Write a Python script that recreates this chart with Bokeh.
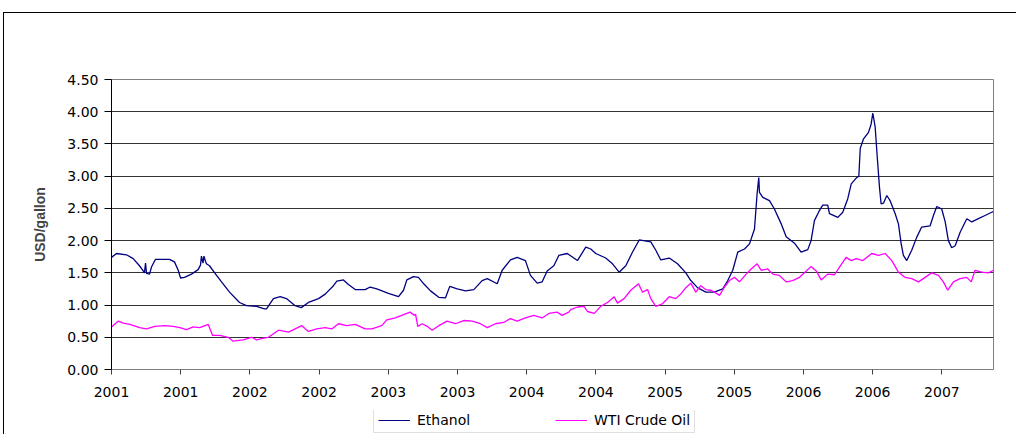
from bokeh.plotting import figure
from bokeh.layouts import column
from bokeh.models import (FixedTicker, CustomJSTickFormatter, NumeralTickFormatter,
                          Legend, LegendItem, Range1d)
from bokeh.embed import file_html
from bokeh.resources import INLINE

# ---------------- data (fractional years, USD/gallon) ----------------
eth_t = [2001.00, 2001.036, 2001.108, 2001.157, 2001.202, 2001.229, 2001.238, 2001.246,
         2001.253, 2001.275, 2001.289, 2001.318, 2001.419, 2001.455, 2001.482, 2001.499,
         2001.527, 2001.578, 2001.626, 2001.643, 2001.650, 2001.661, 2001.668, 2001.679,
         2001.686, 2001.708, 2001.759, 2001.795, 2001.853, 2001.925, 2001.975, 2002.048,
         2002.105, 2002.120, 2002.170, 2002.219, 2002.264, 2002.327, 2002.371, 2002.423,
         2002.496, 2002.544, 2002.604, 2002.628, 2002.676, 2002.712, 2002.761, 2002.833,
         2002.869, 2002.917, 2003.001, 2003.074, 2003.110, 2003.134, 2003.182, 2003.218,
         2003.256, 2003.305, 2003.365, 2003.413, 2003.444, 2003.498, 2003.558, 2003.618,
         2003.678, 2003.715, 2003.787, 2003.823, 2003.883, 2003.931, 2003.991, 2004.027,
         2004.076, 2004.112, 2004.148, 2004.196, 2004.232, 2004.293, 2004.367, 2004.427,
         2004.463, 2004.499, 2004.571, 2004.620, 2004.668, 2004.716, 2004.764, 2004.813,
         2004.897, 2004.933, 2004.969, 2005.030, 2005.090, 2005.150, 2005.186, 2005.234,
         2005.294, 2005.355, 2005.417, 2005.453, 2005.489, 2005.525, 2005.574, 2005.610,
         2005.646, 2005.665, 2005.677, 2005.682, 2005.706, 2005.754, 2005.790, 2005.839,
         2005.875, 2005.935, 2005.983, 2006.031, 2006.055, 2006.079, 2006.116, 2006.139,
         2006.175, 2006.188, 2006.248, 2006.284, 2006.320, 2006.345, 2006.381, 2006.400,
         2006.410, 2006.434, 2006.470, 2006.489, 2006.501, 2006.518, 2006.535, 2006.549,
         2006.561, 2006.578, 2006.602, 2006.626, 2006.662, 2006.686, 2006.706, 2006.722,
         2006.746, 2006.782, 2006.818, 2006.854, 2006.915, 2006.939, 2006.963, 2006.999,
         2007.024, 2007.047, 2007.071, 2007.096, 2007.132, 2007.180, 2007.216, 2007.264,
         2007.312, 2007.360, 2007.372]
eth_v = [1.74, 1.80, 1.78, 1.72, 1.61, 1.53, 1.50, 1.65,
         1.49, 1.48, 1.59, 1.71, 1.71, 1.67, 1.54, 1.42,
         1.43, 1.48, 1.55, 1.62, 1.76, 1.65, 1.76, 1.68,
         1.64, 1.61, 1.46, 1.36, 1.20, 1.04, 0.99, 0.98,
         0.94, 0.94, 1.10, 1.13, 1.10, 0.99, 0.96, 1.04,
         1.10, 1.17, 1.30, 1.37, 1.39, 1.32, 1.24, 1.24,
         1.28, 1.25, 1.18, 1.13, 1.23, 1.39, 1.44, 1.43,
         1.33, 1.22, 1.12, 1.11, 1.29, 1.25, 1.22, 1.24,
         1.38, 1.41, 1.33, 1.54, 1.70, 1.74, 1.69, 1.46,
         1.34, 1.36, 1.53, 1.61, 1.77, 1.80, 1.69, 1.90,
         1.87, 1.80, 1.73, 1.64, 1.51, 1.61, 1.82, 2.01,
         1.98, 1.85, 1.70, 1.73, 1.64, 1.50, 1.38, 1.27,
         1.20, 1.20, 1.25, 1.38, 1.54, 1.82, 1.87, 1.95,
         2.18, 2.73, 2.98, 2.75, 2.67, 2.62, 2.49, 2.26,
         2.06, 1.96, 1.82, 1.86, 2.00, 2.31, 2.47, 2.55,
         2.55, 2.42, 2.36, 2.44, 2.65, 2.88, 2.97, 3.00,
         3.43, 3.58, 3.68, 3.81, 3.98, 3.76, 3.24, 2.83,
         2.57, 2.58, 2.70, 2.62, 2.42, 2.26, 1.95, 1.77,
         1.69, 1.85, 2.05, 2.21, 2.23, 2.39, 2.53, 2.49,
         2.29, 2.00, 1.89, 1.92, 2.13, 2.34, 2.29, 2.34,
         2.39, 2.44, 2.45]

oil_t = [2001.00, 2001.048, 2001.085, 2001.132, 2001.204, 2001.253, 2001.313, 2001.385,
         2001.446, 2001.493, 2001.542, 2001.590, 2001.638, 2001.699, 2001.730, 2001.782,
         2001.843, 2001.879, 2001.952, 2002.012, 2002.048, 2002.108, 2002.134, 2002.207,
         2002.279, 2002.327, 2002.375, 2002.423, 2002.483, 2002.544, 2002.592, 2002.640,
         2002.700, 2002.761, 2002.833, 2002.881, 2002.953, 2002.989, 2003.050, 2003.097,
         2003.158, 2003.189, 2003.197, 2003.213, 2003.245, 2003.281, 2003.317, 2003.365,
         2003.425, 2003.485, 2003.545, 2003.606, 2003.666, 2003.715, 2003.774, 2003.834,
         2003.883, 2003.931, 2003.991, 2004.051, 2004.112, 2004.160, 2004.220, 2004.256,
         2004.304, 2004.318, 2004.367, 2004.415, 2004.439, 2004.488, 2004.535, 2004.584,
         2004.632, 2004.656, 2004.704, 2004.752, 2004.808, 2004.837, 2004.873, 2004.897,
         2004.933, 2004.981, 2005.030, 2005.077, 2005.113, 2005.150, 2005.186, 2005.222,
         2005.258, 2005.294, 2005.330, 2005.357, 2005.393, 2005.429, 2005.465, 2005.501,
         2005.537, 2005.586, 2005.622, 2005.665, 2005.694, 2005.742, 2005.778, 2005.826,
         2005.875, 2005.922, 2005.971, 2006.007, 2006.055, 2006.092, 2006.128, 2006.175,
         2006.224, 2006.260, 2006.308, 2006.345, 2006.381, 2006.429, 2006.493, 2006.542,
         2006.590, 2006.638, 2006.686, 2006.734, 2006.782, 2006.831, 2006.879, 2006.927,
         2006.975, 2007.011, 2007.042, 2007.084, 2007.132, 2007.180, 2007.212, 2007.240,
         2007.288, 2007.336, 2007.372]
oil_v = [0.66, 0.75, 0.72, 0.70, 0.65, 0.63, 0.67, 0.68,
         0.67, 0.65, 0.62, 0.66, 0.65, 0.70, 0.53, 0.53,
         0.50, 0.44, 0.46, 0.50, 0.46, 0.49, 0.50, 0.61,
         0.58, 0.63, 0.68, 0.59, 0.63, 0.65, 0.63, 0.71,
         0.68, 0.70, 0.63, 0.63, 0.68, 0.77, 0.80, 0.84,
         0.89, 0.84, 0.86, 0.67, 0.71, 0.67, 0.61, 0.68,
         0.75, 0.71, 0.76, 0.75, 0.71, 0.65, 0.71, 0.73,
         0.79, 0.75, 0.80, 0.84, 0.80, 0.87, 0.89, 0.84,
         0.89, 0.93, 0.97, 0.98, 0.90, 0.87, 0.98, 1.04,
         1.13, 1.03, 1.10, 1.23, 1.33, 1.20, 1.24, 1.10,
         0.98, 1.02, 1.13, 1.10, 1.17, 1.27, 1.34, 1.20,
         1.30, 1.24, 1.23, 1.20, 1.15, 1.28, 1.38, 1.43,
         1.36, 1.48, 1.56, 1.64, 1.54, 1.56, 1.48, 1.46,
         1.36, 1.38, 1.43, 1.50, 1.60, 1.53, 1.39, 1.48,
         1.47, 1.59, 1.74, 1.69, 1.72, 1.69, 1.80, 1.77,
         1.80, 1.69, 1.51, 1.43, 1.41, 1.36, 1.43, 1.50,
         1.46, 1.36, 1.23, 1.36, 1.41, 1.43, 1.36, 1.54,
         1.51, 1.50, 1.54]

x_ticks = [2001.0, 2001.5, 2002.0, 2002.5, 2003.0, 2003.5, 2004.0, 2004.5,
           2005.0, 2005.5, 2006.0, 2006.5, 2007.0]
y_ticks = [0.0, 0.5, 1.0, 1.5, 2.0, 2.5, 3.0, 3.5, 4.0, 4.5]
series_names = ["Ethanol", "WTI Crude Oil"]
series_colors = ["#000080", "#FF00FF"]
x_start, x_end = 2001.0, 2007.373
y_start, y_end = 0.0, 4.5

FONT = "DejaVu Sans"
FSIZE = "14px"

# ---------------- main chart ----------------
p = figure(width=1012, height=397, output_backend="svg", toolbar_location=None,
           x_range=Range1d(x_start, x_end), y_range=Range1d(y_start, y_end),
           min_border_left=107, min_border_right=23, min_border_top=66,
           min_border_bottom=41)
p.background_fill_color = "white"
p.border_fill_color = "white"
p.outline_line_color = "#808080"
p.outline_line_width = 1

p.line(eth_t, eth_v, line_color=series_colors[0], line_width=1.3)
p.line(oil_t, oil_v, line_color=series_colors[1], line_width=1.3)

p.xaxis.ticker = FixedTicker(ticks=x_ticks)
p.xaxis.formatter = CustomJSTickFormatter(code="return Math.floor(tick + 1e-6).toFixed(0);")
p.xaxis.axis_line_color = "#808080"
p.xaxis.major_tick_line_color = "#404040"
p.xaxis.major_tick_out = 5
p.xaxis.major_tick_in = 0
p.xaxis.minor_tick_line_color = None
p.xaxis.major_label_standoff = 12
p.xaxis.major_label_text_font = FONT
p.xaxis.major_label_text_font_size = FSIZE
p.xaxis.major_label_text_color = "#000000"

p.yaxis.ticker = FixedTicker(ticks=y_ticks)
p.yaxis.formatter = NumeralTickFormatter(format="0.00")
p.yaxis.axis_line_color = "#000000"
p.yaxis.major_tick_line_color = "#000000"
p.yaxis.major_tick_out = 7
p.yaxis.major_tick_in = 0
p.yaxis.minor_tick_line_color = None
p.yaxis.major_label_standoff = 6
p.yaxis.major_label_text_font = FONT
p.yaxis.major_label_text_font_size = FSIZE
p.yaxis.major_label_text_color = "#000000"
p.yaxis.axis_label = "USD/gallon"
p.yaxis.axis_label_text_font = "Liberation Sans"
p.yaxis.axis_label_text_font_style = "bold"
p.yaxis.axis_label_text_font_size = "14px"
p.yaxis.axis_label_standoff = 16

p.xgrid.grid_line_color = None
p.ygrid.ticker = FixedTicker(ticks=y_ticks)
p.ygrid.grid_line_color = "#333333"
p.ygrid.grid_line_width = 1

# ---------------- legend strip ----------------
lg = figure(width=1012, height=24, output_backend="svg", toolbar_location=None,
            x_range=Range1d(0, 1), y_range=Range1d(0, 1),
            min_border_left=107, min_border_right=23,
            min_border_top=0, min_border_bottom=0)
lg.axis.visible = False
lg.grid.visible = False
lg.outline_line_color = None
lg.background_fill_color = "white"
lg.border_fill_color = "white"
g1 = lg.line([-10, -9], [-10, -9], line_color=series_colors[0], line_width=1.2)
g2 = lg.line([-10, -9], [-10, -9], line_color=series_colors[1], line_width=1.2)

legend = Legend(items=[LegendItem(label=series_names[0], renderers=[g1]),
                       LegendItem(label=series_names[1], renderers=[g2])],
                orientation="horizontal", location=(262, 1))
legend.label_text_font = FONT
legend.label_text_font_size = FSIZE
legend.label_text_color = "#000000"
legend.glyph_width = 32
legend.glyph_height = 14
legend.label_height = 14
legend.label_width = 62
legend.label_standoff = 7
legend.spacing = 76
legend.padding = 4
legend.margin = 0
legend.border_line_color = "#c0c0c0"
legend.border_line_width = 1
legend.background_fill_color = "white"
lg.add_layout(legend)

layout = column(p, lg, spacing=0)
layout.styles = {"border-top": "1px solid #000000", "border-left": "1px solid #000000",
                 "margin-top": "12px", "margin-left": "3px"}
open("out.html", "w").write(file_html(layout, INLINE))
